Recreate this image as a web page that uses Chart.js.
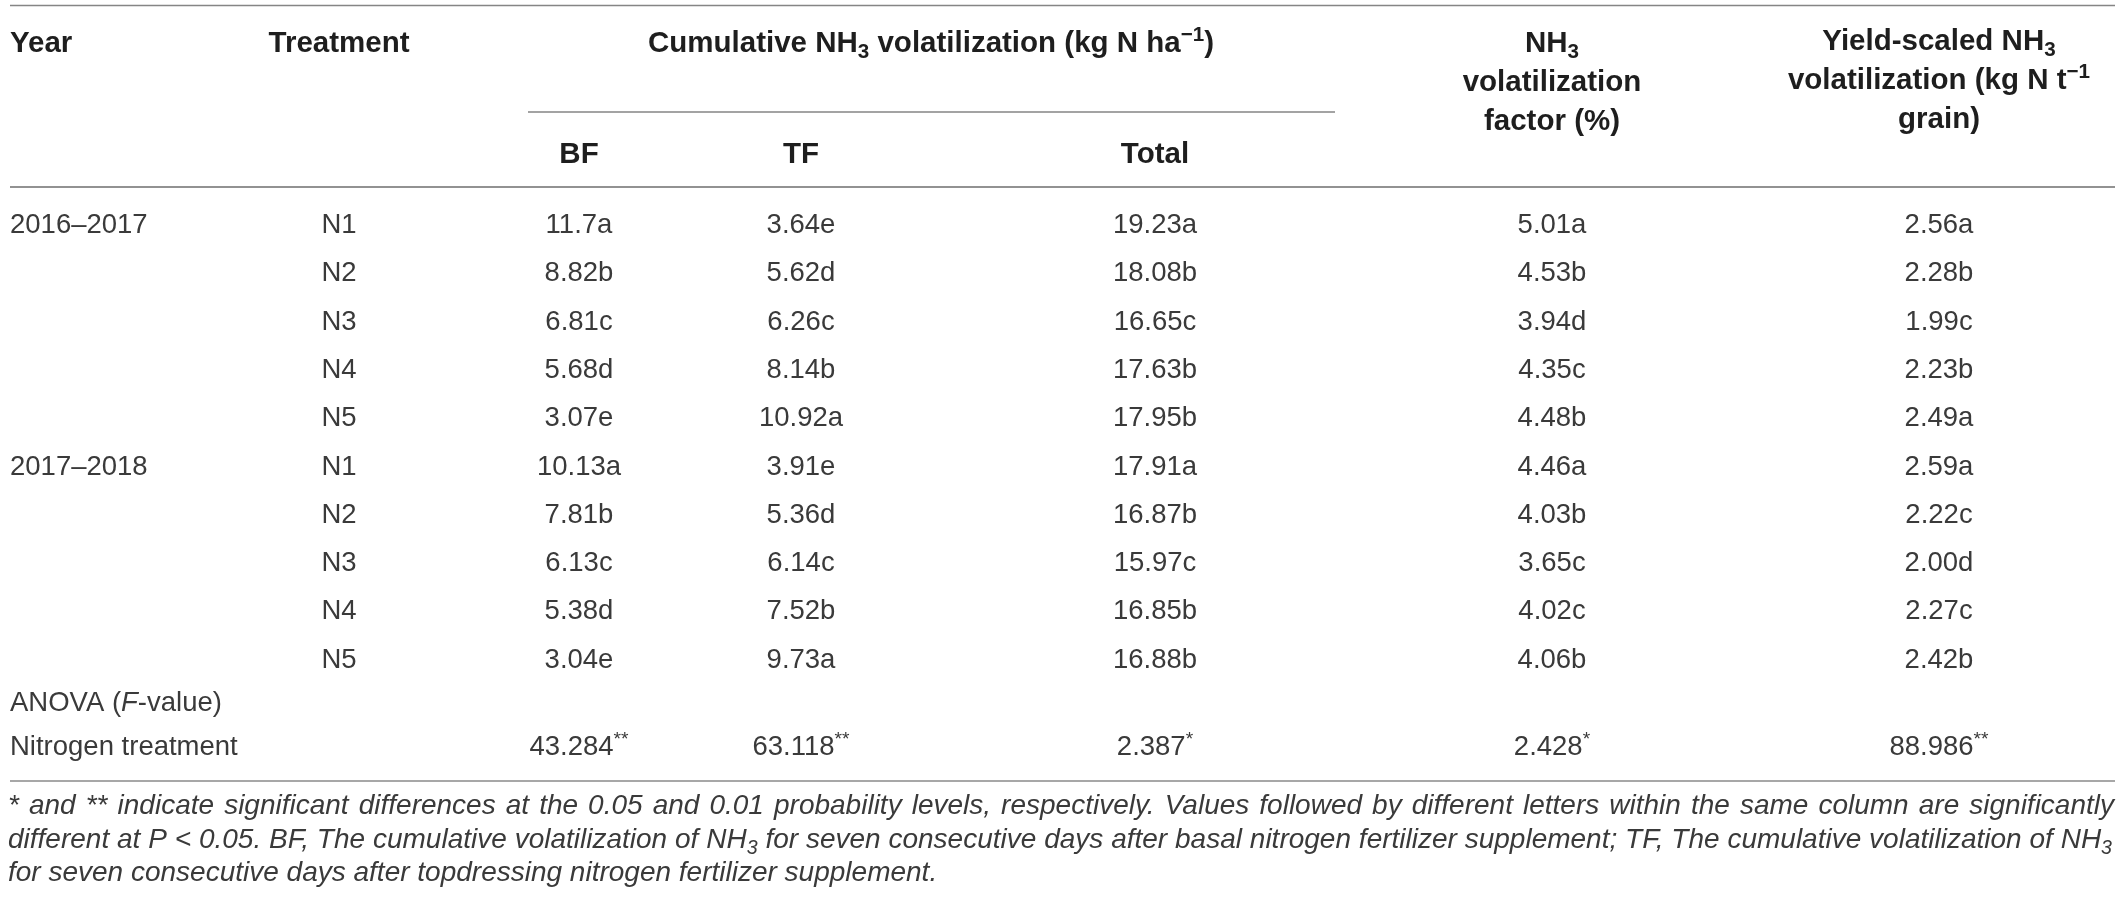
<!DOCTYPE html>
<html>
<head>
<meta charset="utf-8">
<title>NH3 volatilization table</title>
<script src="https://cdn.jsdelivr.net/npm/chart.js"></script>
<style>
  html, body { margin: 0; padding: 0; background: #fff; }
  #table { display: block; }
</style>
</head>
<body>
<canvas id="table" width="2123" height="902"></canvas>
<script>
// table values
// markup: _{..} subscript, ^{..} superscript, ~{..} italic
const years = ["2016–2017", "2017–2018"];
const treatments = ["N1", "N2", "N3", "N4", "N5"];

const bf = ["11.7a", "8.82b", "6.81c", "5.68d", "3.07e",
            "10.13a", "7.81b", "6.13c", "5.38d", "3.04e"];
const tf = ["3.64e", "5.62d", "6.26c", "8.14b", "10.92a",
            "3.91e", "5.36d", "6.14c", "7.52b", "9.73a"];
const total = ["19.23a", "18.08b", "16.65c", "17.63b", "17.95b",
               "17.91a", "16.87b", "15.97c", "16.85b", "16.88b"];
const volFactor = ["5.01a", "4.53b", "3.94d", "4.35c", "4.48b",
                   "4.46a", "4.03b", "3.65c", "4.02c", "4.06b"];
const yieldScaled = ["2.56a", "2.28b", "1.99c", "2.23b", "2.49a",
                     "2.59a", "2.22c", "2.00d", "2.27c", "2.42b"];

const anovaTitle = "ANOVA (~{F}-value)";
const anovaLabel = "Nitrogen treatment";
const anovaF = ["43.284^{**}", "63.118^{**}", "2.387^{*}", "2.428^{*}", "88.986^{**}"];

const headCumulative = "Cumulative NH_{3} volatilization (kg N ha^{−1})";
const headSub = ["BF", "TF", "Total"];
const headFactor = ["NH_{3}", "volatilization", "factor (%)"];
const headYield = ["Yield-scaled NH_{3}", "volatilization (kg N t^{−1}", "grain)"];

const footnote = [
  "* and ** indicate significant differences at the 0.05 and 0.01 probability levels, respectively. Values followed by different letters within the same column are significantly",
  "different at ~{P} < 0.05. BF, The cumulative volatilization of NH_{3} for seven consecutive days after basal nitrogen fertilizer supplement; TF, The cumulative volatilization of NH_{3}",
  "for seven consecutive days after topdressing nitrogen fertilizer supplement."
];

// layout (in scale units, same as pixels here)
const W = 2123, H = 902;
const LEFT = 10, RIGHT = 2115;
const colX = { year: 10, treat: 339, bf: 579, tf: 801, total: 1155, factor: 1552, yield: 1939, cum: 931 };
const rowBase = 233, rowStep = 48.3;

const FAMILY = "'Liberation Sans', Arial, Helvetica, sans-serif";
const headStyle = { family: FAMILY, weight: "bold", size: 29.5, color: "#1e1e1e" };
const bodyStyle = { family: FAMILY, weight: "normal", size: 27.5, color: "#3a3a3a" };
const noteStyle = { family: FAMILY, weight: "normal", size: 28, color: "#3a3a3a", italic: true };

function parseRich(str) {
  const segs = [];
  const re = /([_^~])\{([^}]*)\}/g;
  let last = 0, m;
  while ((m = re.exec(str))) {
    if (m.index > last) segs.push({ t: str.slice(last, m.index) });
    segs.push({ t: m[2], sub: m[1] === "_", sup: m[1] === "^", it: m[1] === "~" });
    last = re.lastIndex;
  }
  if (last < str.length) segs.push({ t: str.slice(last) });
  return segs;
}

function segFont(seg, st) {
  let size = (seg.sub || seg.sup) ? st.size * 0.7 : st.size;
  let it = (seg.it || st.italic) ? "italic " : "";
  return it + st.weight + " " + size + "px " + st.family;
}

function richWidth(ctx, segs, st) {
  let w = 0;
  segs.forEach(s => { ctx.font = segFont(s, st); w += ctx.measureText(s.t).width; });
  return w;
}

function drawSegs(ctx, segs, x, y, st) {
  ctx.fillStyle = st.color;
  ctx.textAlign = "left";
  ctx.textBaseline = "alphabetic";
  segs.forEach(s => {
    ctx.font = segFont(s, st);
    let dy = 0;
    if (s.sub) dy = st.size * 0.22;
    if (s.sup) dy = -st.size * 0.38;
    ctx.fillText(s.t, x, y + dy);
    x += ctx.measureText(s.t).width;
  });
}

function drawRich(ctx, str, x, y, align, st) {
  const segs = parseRich(str);
  const w = richWidth(ctx, segs, st);
  let sx = x;
  if (align === "center") sx = x - w / 2;
  if (align === "right") sx = x - w;
  drawSegs(ctx, segs, sx, y, st);
}

// justified footnote line; squeezes a bit if the words do not fit
function drawJustified(ctx, str, x0, x1, y, st) {
  const words = str.split(" ").map(parseRich);
  const widths = words.map(w => richWidth(ctx, w, st));
  const sum = widths.reduce((a, b) => a + b, 0);
  const minGap = st.size * 0.2;
  let sx = 1;
  if (sum + minGap * (words.length - 1) > x1 - x0) {
    sx = (x1 - x0) / (sum + minGap * (words.length - 1));
  }
  const gap = ((x1 - x0) / sx - sum) / (words.length - 1);
  ctx.save();
  ctx.translate(x0, 0);
  ctx.scale(sx, 1);
  let x = 0;
  words.forEach((w, i) => {
    drawSegs(ctx, w, x, y, st);
    x += widths[i] + gap;
  });
  ctx.restore();
}

const tablePlugin = {
  id: "tableText",
  afterDraw(chart) {
    const ctx = chart.ctx;
    const xs = chart.scales.x, ys = chart.scales.y;
    const px = v => xs.getPixelForValue(v);
    const py = v => ys.getPixelForValue(v);

    ctx.save();
    ctx.fillStyle = "#fff";
    ctx.fillRect(0, 0, chart.width, chart.height);

    // rules
    function hline(y, a, b, color) {
      ctx.beginPath();
      ctx.strokeStyle = color || "#858585";
      ctx.lineWidth = 1.6;
      ctx.moveTo(px(a), py(y));
      ctx.lineTo(px(b), py(y));
      ctx.stroke();
    }
    hline(5.5, LEFT, RIGHT);
    hline(112, 528, 1335);
    hline(187, LEFT, RIGHT, "#6e6e6e");

    // header
    const h1 = 52, lh = 39;
    drawRich(ctx, "Year", px(colX.year), py(h1), "left", headStyle);
    drawRich(ctx, "Treatment", px(colX.treat), py(h1), "center", headStyle);
    drawRich(ctx, headCumulative, px(colX.cum), py(h1), "center", headStyle);
    headFactor.forEach((t, i) => drawRich(ctx, t, px(colX.factor), py(h1 + i * lh), "center", headStyle));
    headYield.forEach((t, i) => drawRich(ctx, t, px(colX.yield), py(h1 - 2 + i * lh), "center", headStyle));
    const subCols = [colX.bf, colX.tf, colX.total];
    headSub.forEach((t, i) => drawRich(ctx, t, px(subCols[i]), py(163), "center", headStyle));

    // body rows
    const cols = [bf, tf, total, volFactor, yieldScaled];
    const colPos = [colX.bf, colX.tf, colX.total, colX.factor, colX.yield];
    for (let r = 0; r < years.length * treatments.length; r++) {
      const y = py(rowBase + r * rowStep);
      if (r % treatments.length === 0) {
        drawRich(ctx, years[r / treatments.length], px(colX.year), y, "left", bodyStyle);
      }
      drawRich(ctx, treatments[r % treatments.length], px(colX.treat), y, "center", bodyStyle);
      cols.forEach((c, k) => drawRich(ctx, c[r], px(colPos[k]), y, "center", bodyStyle));
    }

    // ANOVA rows
    const yA = rowBase + 10 * rowStep - 5;
    drawRich(ctx, anovaTitle, px(colX.year), py(yA), "left", bodyStyle);
    const yN = yA + 44;
    drawRich(ctx, anovaLabel, px(colX.year), py(yN), "left", bodyStyle);
    anovaF.forEach((t, k) => drawRich(ctx, t, px(colPos[k]), py(yN), "center", bodyStyle));

    hline(yN + 26, LEFT, RIGHT, "#8a8a8a");

    // footnote
    const f0 = yN + 59, fl = 33.5;
    drawJustified(ctx, footnote[0], px(8), px(2114), py(f0), noteStyle);
    drawJustified(ctx, footnote[1], px(8), px(2112), py(f0 + fl), noteStyle);
    drawRich(ctx, footnote[2], px(8), py(f0 + 2 * fl), "left", noteStyle);
    ctx.restore();
  }
};

new Chart(document.getElementById("table"), {
  type: "scatter",
  data: { datasets: [] },
  options: {
    responsive: false,
    animation: false,
    devicePixelRatio: 1,
    layout: { padding: 0 },
    plugins: { legend: { display: false }, tooltip: { enabled: false } },
    scales: {
      x: { type: "linear", min: 0, max: W, display: false },
      y: { type: "linear", min: 0, max: H, reverse: true, display: false }
    }
  },
  plugins: [tablePlugin]
});
</script>
</body>
</html>
